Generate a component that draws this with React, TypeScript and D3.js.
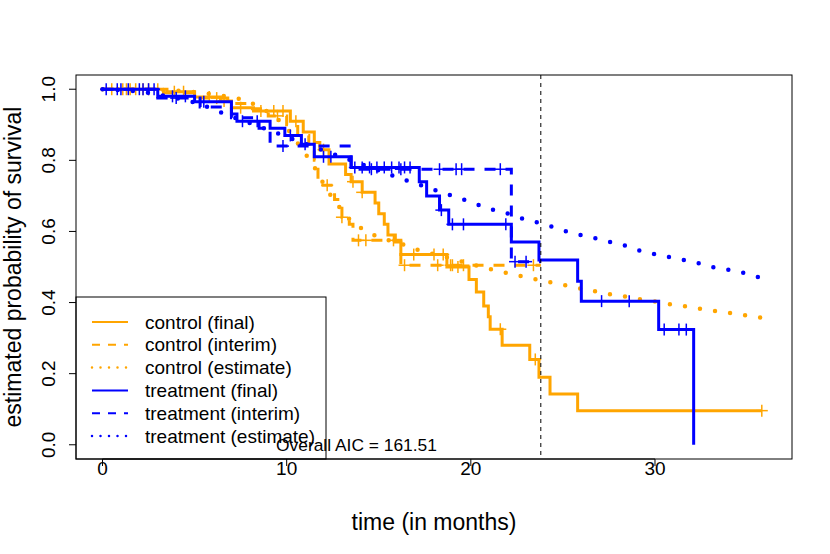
import React from "react";
import * as d3 from "d3";

// ---------- data ----------
const xTicks = [0, 10, 20, 30];
const yTicks = [0, 0.2, 0.4, 0.6, 0.8, 1.0];
const interimCut = 23.8;
const aicText = "Overall AIC = 161.51";

// control (final) KM
const ctrlFinalT = [0, 3.5, 5.0, 6.4, 7.0, 8.2, 10.2, 10.9, 11.5, 11.8, 12.3, 13.2, 13.5, 14.1, 14.8, 15.0, 15.3, 15.5, 15.9, 16.2, 18.7, 19.9, 20.3, 20.7, 20.95, 21.05, 21.7, 23.2, 23.7, 24.3, 25.8];
const ctrlFinalS = [1.0, 0.993, 0.978, 0.967, 0.948, 0.939, 0.91, 0.88, 0.85, 0.83, 0.79, 0.76, 0.74, 0.71, 0.68, 0.65, 0.62, 0.59, 0.57, 0.535, 0.5, 0.465, 0.43, 0.39, 0.36, 0.325, 0.28, 0.24, 0.19, 0.143, 0.096];
const ctrlFinalEnd = 35.8;
const ctrlFinalCens = [0.5, 1.3, 1.8, 2.5, 3.9, 4.4, 5.8, 6.6, 7.5, 8.6, 9.3, 9.8, 10.5, 12.0, 13.6, 14.1, 16.9, 18.0, 18.5, 19.3, 21.6, 23.5, 35.8];

// control (interim) KM
const ctrlIntT = [0, 3.2, 5.3, 6.8, 8.0, 9.0, 10.0, 10.6, 11.2, 11.5, 11.7, 12.6, 13.0, 13.4, 13.6, 16.2];
const ctrlIntS = [1.0, 0.99, 0.975, 0.96, 0.945, 0.925, 0.9, 0.87, 0.83, 0.8, 0.73, 0.69, 0.64, 0.62, 0.575, 0.505];
const ctrlIntEnd = 23.8;
const ctrlIntCens = [1.1, 1.5, 2.2, 3.0, 6.2, 9.5, 12.2, 13.0, 13.9, 14.3, 15.8, 16.4, 18.2, 18.9, 19.0, 19.6, 23.4];

// control (estimate)
const ctrlEstT = [0, 2, 4, 5.35, 6.2, 7.8, 8.6, 9.3, 9.9, 10.9, 11.4, 11.8, 12.2, 12.7, 13.2, 13.8, 14.5, 15.3, 16.3, 16.9, 17.7, 18.5, 19.3, 20.1, 20.9, 21.7, 22.5, 23.4, 24.2, 25.0, 25.8, 26.6, 27.4, 28.3, 29.1, 29.9, 30.7, 31.6, 32.4, 33.2, 34.0, 34.9, 35.8];
const ctrlEstS = [1.0, 0.999, 0.996, 0.99, 0.984, 0.967, 0.948, 0.925, 0.897, 0.826, 0.79, 0.753, 0.716, 0.68, 0.646, 0.618, 0.596, 0.579, 0.564, 0.552, 0.54, 0.53, 0.518, 0.507, 0.496, 0.486, 0.477, 0.467, 0.458, 0.45, 0.441, 0.433, 0.425, 0.418, 0.41, 0.404, 0.396, 0.39, 0.383, 0.377, 0.371, 0.364, 0.357];

// treatment (final) KM
const trtFinalT = [0, 3.0, 5.0, 7.0, 7.3, 9.1, 9.9, 10.8, 11.5, 13.5, 17.2, 17.6, 18.3, 18.8, 22.2, 23.7, 25.8, 26.0, 30.2, 32.1];
const trtFinalS = [1.0, 0.98, 0.965, 0.93, 0.91, 0.89, 0.87, 0.845, 0.81, 0.78, 0.74, 0.7, 0.66, 0.62, 0.57, 0.52, 0.46, 0.404, 0.324, 0.0];
const trtFinalEnd = 32.1;
const trtFinalCens = [0.2, 0.8, 1.4, 2.0, 2.5, 2.8, 3.8, 4.5, 5.5, 7.6, 8.4, 10.2, 11.0, 12.0, 12.4, 13.7, 14.1, 14.5, 14.9, 15.3, 15.7, 16.1, 16.4, 16.7, 18.4, 19.0, 19.6, 21.9, 27.1, 28.6, 30.5, 31.3, 31.7];

// treatment (interim) KM
const trtIntT = [0, 3.0, 5.3, 7.0, 8.5, 9.1, 13.5, 22.2];
const trtIntS = [1.0, 0.975, 0.95, 0.92, 0.89, 0.84, 0.775, 0.515];
const trtIntEnd = 23.8;
const trtIntCens = [1.0, 2.2, 4.0, 9.8, 14.6, 16.2, 18.3, 19.2, 19.5, 21.6, 22.4, 23.0];

// treatment (estimate)
const trtEstT = [0, 2, 4, 5.3, 6.8, 8.0, 9.2, 10.0, 12.3, 13.8, 16.2, 17.0, 17.8, 18.6, 19.4, 20.2, 20.9, 21.8, 22.6, 23.4, 24.2, 25.0, 25.8, 26.6, 27.4, 28.2, 29.0, 29.8, 30.6, 31.4, 32.2, 33.0, 33.9, 34.7, 35.5, 35.8];
const trtEstS = [1.0, 0.993, 0.975, 0.958, 0.927, 0.905, 0.882, 0.866, 0.822, 0.794, 0.749, 0.735, 0.721, 0.707, 0.693, 0.679, 0.665, 0.654, 0.639, 0.628, 0.617, 0.603, 0.592, 0.583, 0.572, 0.563, 0.549, 0.538, 0.53, 0.521, 0.513, 0.501, 0.493, 0.485, 0.473, 0.47];

const legendLabels = ["control (final)", "control (interim)", "control (estimate)", "treatment (final)", "treatment (interim)", "treatment (estimate)"];

// ---------- layout ----------
const W = 830, H = 554;
const L = 76, R = 792, T = 75, B = 459;
const ORANGE = "#FFA500";
const BLUE = "#0000FF";
const FONT = "'Liberation Sans', Arial, Helvetica, sans-serif";

const x = d3.scaleLinear().domain([0 - 36 * 0.04, 36 + 36 * 0.04]).range([L, R]);
const y = d3.scaleLinear().domain([-0.04, 1.04]).range([B, T]);

const stepLine = d3.line<[number, number]>().x(d => x(d[0])).y(d => y(d[1])).curve(d3.curveStepAfter);
const smoothLine = d3.line<[number, number]>().x(d => x(d[0])).y(d => y(d[1])).curve(d3.curveMonotoneX);

function stepPts(ts: number[], ss: number[], end: number): [number, number][] {
  const p: [number, number][] = ts.map((t, i) => [t, ss[i]]);
  p.push([end, ss[ss.length - 1]]);
  return p;
}
function survAt(ts: number[], ss: number[], t: number) {
  const i = d3.bisectRight(ts, t) - 1;
  return ss[Math.max(0, i)];
}

type Dash = "solid" | "dashed" | "dotted";
function styleFor(d: Dash, legend = false) {
  if (d === "solid") return { strokeWidth: legend ? 2 : 3, strokeDasharray: undefined as any, strokeLinecap: "butt" as const };
  if (d === "dashed") return { strokeWidth: legend ? 2 : 3, strokeDasharray: legend ? "8 8" : "11 10", strokeLinecap: "butt" as const };
  return { strokeWidth: legend ? 2.5 : 4.5, strokeDasharray: legend ? "0 8.5" : "0 15.2", strokeLinecap: "round" as const };
}

function Censors({ ts, ss, cens, color }: { ts: number[]; ss: number[]; cens: number[]; color: string }) {
  return (
    <g stroke={color} strokeWidth={1.5}>
      {cens.map((c, i) => {
        const cx = x(c), cy = y(survAt(ts, ss, c));
        return (
          <g key={i}>
            <line x1={cx - 6} x2={cx + 6} y1={cy} y2={cy} />
            <line x1={cx} x2={cx} y1={cy - 6} y2={cy + 6} />
          </g>
        );
      })}
    </g>
  );
}

export default function App() {
  const curves = [
    { pts: stepPts(ctrlFinalT, ctrlFinalS, ctrlFinalEnd), color: ORANGE, dash: "solid" as Dash, step: true },
    { pts: stepPts(ctrlIntT, ctrlIntS, ctrlIntEnd), color: ORANGE, dash: "dashed" as Dash, step: true },
    { pts: ctrlEstT.map((t, i) => [t, ctrlEstS[i]] as [number, number]), color: ORANGE, dash: "dotted" as Dash, step: false },
    { pts: stepPts(trtFinalT, trtFinalS, trtFinalEnd), color: BLUE, dash: "solid" as Dash, step: true },
    { pts: stepPts(trtIntT, trtIntS, trtIntEnd), color: BLUE, dash: "dashed" as Dash, step: true },
    { pts: trtEstT.map((t, i) => [t, trtEstS[i]] as [number, number]), color: BLUE, dash: "dotted" as Dash, step: false },
  ];
  const legendDash: Dash[] = ["solid", "dashed", "dotted", "solid", "dashed", "dotted"];
  const legendColor = [ORANGE, ORANGE, ORANGE, BLUE, BLUE, BLUE];

  return (
    <svg width={W} height={H} style={{ position: "absolute", left: 0, top: 0, background: "#fff" }} fontFamily={FONT}>
      <rect x={0} y={0} width={W} height={H} fill="#fff" />
      <defs>
        <clipPath id="plotclip"><rect x={L} y={T} width={R - L} height={B - T} /></clipPath>
      </defs>

      <g clipPath="url(#plotclip)">
        <Censors ts={ctrlFinalT} ss={ctrlFinalS} cens={ctrlFinalCens} color={ORANGE} />
        <Censors ts={ctrlIntT} ss={ctrlIntS} cens={ctrlIntCens} color={ORANGE} />
        {curves.slice(0, 3).map((c, i) => {
          const st = styleFor(c.dash);
          return <path key={"o" + i} d={(c.step ? stepLine : smoothLine)(c.pts) || ""} fill="none" stroke={c.color} strokeWidth={st.strokeWidth} strokeDasharray={st.strokeDasharray} strokeLinecap={st.strokeLinecap} />;
        })}
        <Censors ts={trtFinalT} ss={trtFinalS} cens={trtFinalCens} color={BLUE} />
        <Censors ts={trtIntT} ss={trtIntS} cens={trtIntCens} color={BLUE} />
        {curves.slice(3).map((c, i) => {
          const st = styleFor(c.dash);
          return <path key={"b" + i} d={(c.step ? stepLine : smoothLine)(c.pts) || ""} fill="none" stroke={c.color} strokeWidth={st.strokeWidth} strokeDasharray={st.strokeDasharray} strokeLinecap={st.strokeLinecap} />;
        })}
        <line x1={x(interimCut)} x2={x(interimCut)} y1={T} y2={B} stroke="#000" strokeWidth={1} strokeDasharray="4 4" />
      </g>

      {/* legend */}
      <g>
        <rect x={L} y={297} width={250} height={B - 297} fill="#fff" stroke="#000" strokeWidth={1} />
        {legendLabels.map((lab, i) => {
          const cy = 322 + i * 22.8;
          const st = styleFor(legendDash[i], true);
          return (
            <g key={lab}>
              <line x1={92} x2={128} y1={cy} y2={cy} stroke={legendColor[i]} strokeWidth={st.strokeWidth} strokeDasharray={st.strokeDasharray} strokeLinecap={st.strokeLinecap} />
              <text x={145} y={cy} dy="0.35em" fontSize={19} fill="#000">{lab}</text>
            </g>
          );
        })}
      </g>

      <text x={276} y={451} fontSize={17.4} fill="#000">{aicText}</text>

      {/* axes */}
      <rect x={L} y={T} width={R - L} height={B - T} fill="none" stroke="#000" strokeWidth={1} />
      <g>
        <line x1={x(xTicks[0])} x2={x(xTicks[xTicks.length - 1])} y1={B} y2={B} stroke="#000" />
        {xTicks.map(t => (
          <g key={t}>
            <line x1={x(t)} x2={x(t)} y1={B} y2={B + 7} stroke="#000" />
            <text x={x(t)} y={475} textAnchor="middle" fontSize={19}>{t}</text>
          </g>
        ))}
      </g>
      <g>
        {yTicks.map(t => (
          <g key={t}>
            <line x1={L} x2={L - 7} y1={y(t)} y2={y(t)} stroke="#000" />
            <text transform={`translate(55,${y(t)}) rotate(-90)`} textAnchor="middle" fontSize={19}>{t.toFixed(1)}</text>
          </g>
        ))}
      </g>
      <text x={(L + R) / 2} y={530} textAnchor="middle" fontSize={23}>time (in months)</text>
      <text transform={`translate(21,${(T + B) / 2}) rotate(-90)`} textAnchor="middle" fontSize={23}>estimated probability of survival</text>
    </svg>
  );
}
